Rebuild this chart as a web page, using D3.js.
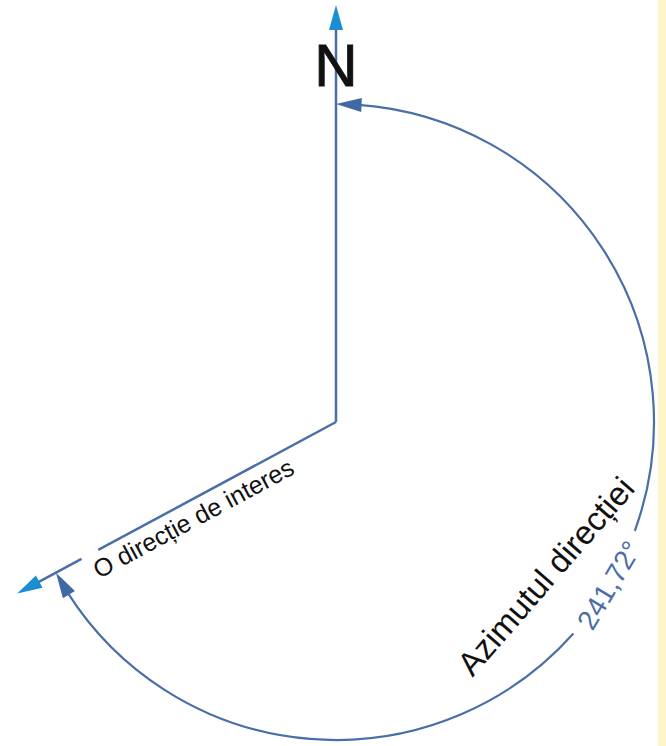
<!DOCTYPE html>
<html>
<head>
<meta charset="utf-8">
<script src="https://cdn.jsdelivr.net/npm/d3@7"></script>
<style>
    body { margin: 0; background: #ffffff; }
    text { font-family: "Liberation Sans", Arial, sans-serif; }
</style>
</head>
<body>
<div id="azimuthChart"></div>
<script>
// the values of the drawing
const rayAzimuths = [0, 241.72];              // north, direction of interest
const rayLabels = ["N", "O direcție de interes"];
const arcLabels = ["Azimutul direcției", "241,72°"];

// set the dimensions
const width = 666,
    height = 746,
    cx = 336,
    cy = 422,
    arcRadius = 318,
    rayLengths = [417, 362],
    arrowLength = 25,
    dark = "#4a6ea6",
    darkHead = "#3f69a4",
    light = "#1b8dd2";

// azimuth (degrees, clockwise from north) -> radians
const angle = d3.scaleLinear().domain([0, 360]).range([0, 2 * Math.PI]);

// point at a given azimuth and distance from the centre
const point = (az, r) => [cx + r * Math.sin(angle(az)), cy - r * Math.cos(angle(az))];

// triangle from a tip point and a base-centre point
const head = (tip, base, half) => {
    const dx = tip[0] - base[0], dy = tip[1] - base[1];
    const len = Math.hypot(dx, dy);
    const nx = -dy / len * half, ny = dx / len * half;
    return d3.line()([tip, [base[0] + nx, base[1] + ny], [base[0] - nx, base[1] - ny]]) + "Z";
};

const svg = d3.select("#azimuthChart").append("svg")
    .attr("width", width)
    .attr("height", height);

svg.append("rect")
    .attr("width", width)
    .attr("height", height)
    .attr("fill", "#ffffff");

// yellow strip on the right edge
svg.append("rect")
    .attr("x", 658)
    .attr("width", width - 658)
    .attr("height", height)
    .attr("fill", "#fef5c8");

// north ray
const north = rayAzimuths[0];
svg.append("path")
    .attr("d", d3.line()([point(north, 0), point(north, rayLengths[0] - arrowLength + 2)]))
    .attr("stroke", dark)
    .attr("stroke-width", 2.5)
    .attr("fill", "none");

svg.append("path")
    .attr("d", head(point(north, rayLengths[0]), point(north, rayLengths[0] - arrowLength), 7))
    .attr("fill", light);

// direction ray (with a small break near its end)
const dir = rayAzimuths[1];
[[0, 270], [289, rayLengths[1] - arrowLength + 2]].forEach(seg => {
    svg.append("path")
        .attr("d", d3.line()([point(dir, seg[0]), point(dir, seg[1])]))
        .attr("stroke", dark)
        .attr("stroke-width", 2.5)
        .attr("stroke-linecap", "butt")
        .attr("fill", "none");
});

svg.append("path")
    .attr("d", head(point(dir, rayLengths[1]), point(dir, rayLengths[1] - arrowLength), 7))
    .attr("fill", light);

// the azimuth arc, broken where the value is written
const headDeg = 4.6;
const gap = [110, 131.7];
[[north + headDeg - 0.5, gap[0]], [gap[1], dir - headDeg + 0.5]].forEach(seg => {
    const p = d3.path();
    const a0 = angle(seg[0]) - Math.PI / 2,
        a1 = angle(seg[1]) - Math.PI / 2;
    p.moveTo(cx + arcRadius * Math.cos(a0), cy + arcRadius * Math.sin(a0));
    p.arc(cx, cy, arcRadius, a0, a1);
    svg.append("path")
        .attr("d", p.toString())
        .attr("stroke", dark)
        .attr("stroke-width", 2.2)
        .attr("fill", "none");
});

// arrowheads at both ends of the arc
svg.append("path")
    .attr("d", head(point(north, arcRadius), point(north + headDeg, arcRadius), 7))
    .attr("fill", darkHead);

svg.append("path")
    .attr("d", head(point(dir, arcRadius), point(dir - headDeg, arcRadius), 7))
    .attr("fill", darkHead);

// N label
svg.append("text")
    .attr("x", cx)
    .attr("y", 86)
    .attr("text-anchor", "middle")
    .attr("font-size", 60)
    .attr("fill", "#111111")
    .attr("stroke", "#111111")
    .attr("stroke-width", 1)
    .text(rayLabels[0]);

// label under the direction ray
const dStart = point(dir, 283);
svg.append("text")
    .attr("transform", "translate(" + dStart[0] + "," + dStart[1] + ") rotate(" + (dir - 270) + ")")
    .attr("y", 26)
    .attr("font-size", 25)
    .attr("fill", "#111111")
    .text(rayLabels[1]);

// arc title
const tStart = point(151.9, 290);
svg.append("text")
    .attr("transform", "translate(" + tStart[0] + "," + tStart[1] + ") rotate(-49)")
    .attr("font-size", 33)
    .attr("fill", "#111111")
    .text(arcLabels[0]);

// the value, sitting on the arc
const vMid = point((gap[0] + gap[1]) / 2, arcRadius);
svg.append("text")
    .attr("transform", "translate(" + vMid[0] + "," + vMid[1] + ") rotate(" + ((gap[0] + gap[1]) / 2 - 180) + ")")
    .attr("text-anchor", "middle")
    .attr("dy", "0.35em")
    .attr("font-size", 28)
    .attr("fill", dark)
    .text(arcLabels[1]);
</script>
</body>
</html>
